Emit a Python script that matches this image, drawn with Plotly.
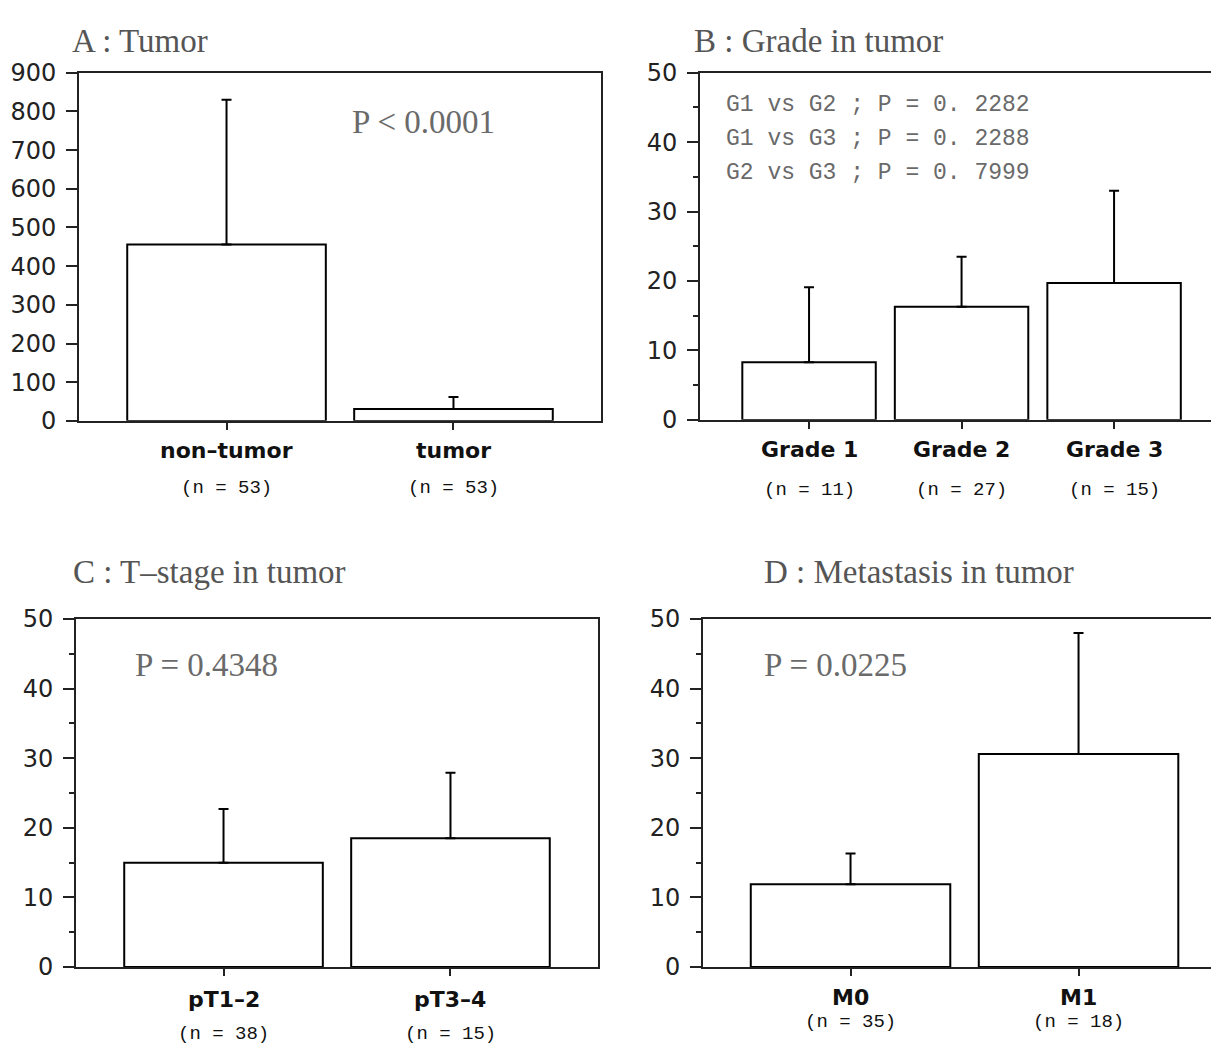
import plotly.graph_objects as go

# ---------------- data ----------------
a_cats = ["non-tumor", "tumor"]
a_n = [53, 53]
a_vals = [456, 31]
a_err = [374, 31]

b_cats = ["Grade 1", "Grade 2", "Grade 3"]
b_n = [11, 27, 15]
b_vals = [8.3, 16.3, 19.7]
b_err = [10.8, 7.2, 13.3]

c_cats = ["pT1-2", "pT3-4"]
c_n = [38, 15]
c_vals = [15.0, 18.5]
c_err = [7.7, 9.4]

d_cats = ["M0", "M1"]
d_n = [35, 18]
d_vals = [11.9, 30.6]
d_err = [4.4, 17.4]

titles = ["A : Tumor", "B : Grade in tumor", "C : T\u2013stage in tumor", "D : Metastasis in tumor"]
p_main = ["P < 0.0001", "P = 0.4348", "P = 0.0225"]
b_lines = ["G1 vs G2 ; P = 0. 2282", "G1 vs G3 ; P = 0. 2288", "G2 vs G3 ; P = 0. 7999"]

# layout helpers (page body margin of 8px and the capture's vertical mapping compensated)
OFF = 8
W, H = 1219 - OFF, 1052
VS, VO = 0.973, 12.5


def px(x):
    return (x - OFF) / W


def py(y):
    page_y = (y - VO) / VS
    return min(1.0, 1 - (page_y - OFF) / H)


fig = go.Figure()

panels = [
    dict(cats=a_cats, n=a_n, vals=a_vals, err=a_err, xa="x", ya="y",
         xdom=[px(79), px(601)], ydom=[py(419), py(71)], xr=[-0.65, 1.65], yr=[0, 900],
         dtick=100, minor=False, mirror_y=True, lab_y=449, n_y=486),
    dict(cats=b_cats, n=b_n, vals=b_vals, err=b_err, xa="x2", ya="y2",
         xdom=[px(700), 1.0], ydom=[py(418), py(71)], xr=[-0.715, 2.688], yr=[0, 50],
         dtick=10, minor=True, mirror_y=False, lab_y=448, n_y=488),
    dict(cats=c_cats, n=c_n, vals=c_vals, err=c_err, xa="x3", ya="y3",
         xdom=[px(76), px(598)], ydom=[py(965), py(617)], xr=[-0.65, 1.65], yr=[0, 50],
         dtick=10, minor=True, mirror_y=True, lab_y=997, n_y=1032),
    dict(cats=d_cats, n=d_n, vals=d_vals, err=d_err, xa="x4", ya="y4",
         xdom=[px(703), 1.0], ydom=[py(965), py(617)], xr=[-0.647, 1.616], yr=[0, 50],
         dtick=10, minor=True, mirror_y=False, lab_y=995, n_y=1020),
]

annotations = []
axis_line = "#222222"

for i, p in enumerate(panels):
    fig.add_trace(go.Bar(
        x=p["cats"], y=p["vals"], xaxis=p["xa"], yaxis=p["ya"], width=0.875,
        marker=dict(color="white", line=dict(color="black", width=2)),
        error_y=dict(type="data", array=p["err"], arrayminus=[0] * len(p["err"]),
                     symmetric=False, color="black", thickness=2, width=5),
        showlegend=False, hoverinfo="skip",
    ))
    suffix = "" if i == 0 else str(i + 1)
    xaxis = dict(domain=p["xdom"], range=p["xr"], type="category", anchor=p["ya"],
                 showline=True, linecolor=axis_line, linewidth=2, mirror=True,
                 ticks="outside", ticklen=7, tickwidth=2, tickcolor=axis_line,
                 showticklabels=False, showgrid=False, zeroline=False, fixedrange=True)
    yaxis = dict(domain=p["ydom"], range=p["yr"], anchor=p["xa"],
                 showline=True, linecolor=axis_line, linewidth=2, mirror=p["mirror_y"],
                 ticks="outside", ticklen=11, tickwidth=2, tickcolor=axis_line,
                 tick0=0, dtick=p["dtick"], showgrid=False, zeroline=False,
                 tickfont=dict(family="DejaVu Sans", size=24, color="#222222"),
                 ticklabelstandoff=5, fixedrange=True)
    if p["minor"]:
        yaxis["minor"] = dict(dtick=5, ticks="outside", ticklen=5, tickwidth=2,
                              tickcolor=axis_line, showgrid=False)
    fig.layout["xaxis" + suffix] = xaxis
    fig.layout["yaxis" + suffix] = yaxis

    for c, n in zip(p["cats"], p["n"]):
        annotations.append(dict(x=c, xref=p["xa"], y=py(p["lab_y"]), yref="paper",
                                text="<b>" + c.replace("-", "\u2013") + "</b>", showarrow=False,
                                xanchor="center", yanchor="middle",
                                font=dict(family="DejaVu Sans", size=22, color="#111111")))
        annotations.append(dict(x=c, xref=p["xa"], y=py(p["n_y"]), yref="paper",
                                text="(n = %d)" % n, showarrow=False,
                                xanchor="center", yanchor="middle",
                                font=dict(family="Liberation Mono", size=19, color="#111111")))

# panel titles (top ones kept fully inside the figure)
title_pos = [(71, None), (693, None), (71, 570), (762, 570)]
for t, (x, y) in zip(titles, title_pos):
    if y is None:
        annotations.append(dict(x=px(x), y=1.0, xref="paper", yref="paper", text=t,
                                showarrow=False, xanchor="left", yanchor="top", borderpad=0,
                                font=dict(family="Liberation Serif", size=33, color="#555555")))
    else:
        annotations.append(dict(x=px(x), y=py(y), xref="paper", yref="paper", text=t,
                                showarrow=False, xanchor="left", yanchor="middle",
                                font=dict(family="Liberation Serif", size=33, color="#555555")))

# p-value texts
p_pos = [(350, 120), (133, 663), (762, 663)]
for t, (x, y) in zip(p_main, p_pos):
    annotations.append(dict(x=px(x), y=py(y), xref="paper", yref="paper", text=t,
                            showarrow=False, xanchor="left", yanchor="middle",
                            font=dict(family="Liberation Serif", size=33, color="#6a6a6a")))
for t, y in zip(b_lines, [103, 137, 171]):
    annotations.append(dict(x=px(724), y=py(y), xref="paper", yref="paper", text=t,
                            showarrow=False, xanchor="left", yanchor="middle",
                            font=dict(family="Liberation Mono", size=23, color="#6a6a6a")))

fig.update_layout(width=W, height=H, margin=dict(l=0, r=0, t=0, b=0),
                  paper_bgcolor="white", plot_bgcolor="white",
                  annotations=annotations, bargap=0.125)

fig.write_html("out.html")
